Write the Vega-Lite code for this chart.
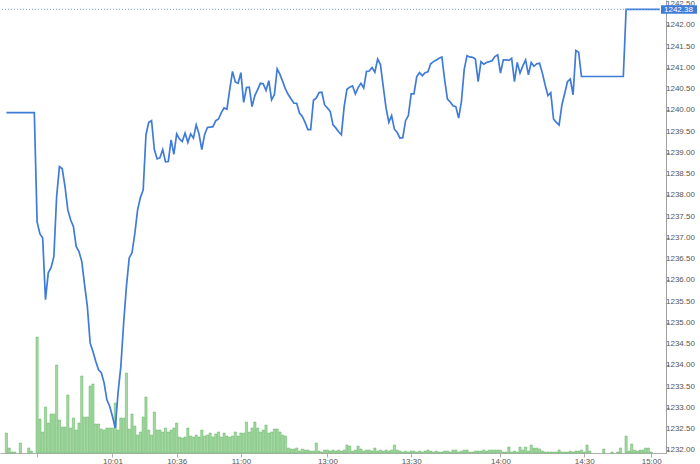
{
  "$schema": "https://vega.github.io/schema/vega-lite/v6.json",
  "width": 666,
  "height": 453,
  "autosize": {"type": "none"},
  "padding": {"left": 0, "top": 0, "right": 34, "bottom": 11},
  "background": "white",
  "config": {
    "view": {"stroke": null},
    "font": "Liberation Sans"
  },
  "datasets": {
    "vol": [
      {"i":0,"v":2000},{"i":1,"v":500},{"i":2,"v":100},{"i":3,"v":100},{"i":5,"v":1000},{"i":8,"v":500},{"i":9,"v":200},
      {"i":11,"v":11600},{"i":12,"v":3400},{"i":13,"v":2100},{"i":14,"v":4600},{"i":15,"v":3000},{"i":16,"v":3900},{"i":17,"v":3900},{"i":18,"v":8800},{"i":19,"v":3300},{"i":20,"v":2600},
      {"i":21,"v":2600},{"i":22,"v":5800},{"i":23,"v":2500},{"i":24,"v":3500},{"i":25,"v":2300},{"i":26,"v":3000},{"i":27,"v":7700},{"i":28,"v":3600},{"i":29,"v":3600},{"i":30,"v":6700},
      {"i":31,"v":6900},{"i":32,"v":2900},{"i":33,"v":2900},{"i":34,"v":2400},{"i":35,"v":2300},{"i":36,"v":2500},{"i":37,"v":2500},{"i":38,"v":2500},{"i":39,"v":5000},{"i":40,"v":2300},
      {"i":41,"v":3500},{"i":42,"v":3500},{"i":43,"v":8000},{"i":44,"v":2400},{"i":45,"v":3900},{"i":46,"v":2700},{"i":47,"v":1800},{"i":48,"v":2100},{"i":49,"v":3600},{"i":50,"v":5600},
      {"i":51,"v":2300},{"i":52,"v":1800},{"i":53,"v":4100},{"i":54,"v":2300},{"i":55,"v":2300},{"i":56,"v":2100},{"i":57,"v":2500},{"i":58,"v":2100},{"i":59,"v":2300},{"i":60,"v":2500},
      {"i":61,"v":3000},{"i":62,"v":1600},{"i":63,"v":1500},{"i":64,"v":1600},{"i":65,"v":2500},{"i":66,"v":1700},{"i":67,"v":1600},{"i":68,"v":1800},{"i":69,"v":1600},{"i":70,"v":2300},
      {"i":71,"v":1700},{"i":72,"v":1800},{"i":73,"v":2000},{"i":74,"v":1600},{"i":75,"v":1900},{"i":76,"v":2100},{"i":77,"v":1600},{"i":78,"v":2000},{"i":79,"v":1700},{"i":80,"v":1600},
      {"i":81,"v":1700},{"i":82,"v":2100},{"i":83,"v":1700},{"i":84,"v":2000},{"i":85,"v":2000},{"i":86,"v":3100},{"i":87,"v":2100},{"i":88,"v":2500},{"i":89,"v":3100},{"i":90,"v":2500},
      {"i":91,"v":2100},{"i":92,"v":2300},{"i":93,"v":2800},{"i":94,"v":2000},{"i":95,"v":2100},{"i":96,"v":2400},{"i":97,"v":2400},{"i":98,"v":2100},{"i":99,"v":1800},{"i":100,"v":1700},
      {"i":101,"v":500},{"i":102,"v":400},{"i":103,"v":400},{"i":104,"v":500},{"i":105,"v":200},{"i":106,"v":400},{"i":107,"v":300},{"i":108,"v":300},{"i":109,"v":200},{"i":110,"v":200},
      {"i":111,"v":1000},{"i":112,"v":200},{"i":113,"v":100},{"i":114,"v":300},{"i":115,"v":300},{"i":116,"v":200},{"i":117,"v":300},{"i":118,"v":200},{"i":119,"v":300},{"i":120,"v":200},
      {"i":121,"v":300},{"i":122,"v":800},{"i":123,"v":700},{"i":124,"v":200},{"i":125,"v":300},{"i":126,"v":700},{"i":127,"v":400},{"i":128,"v":200},{"i":129,"v":300},{"i":130,"v":300},
      {"i":131,"v":200},{"i":132,"v":500},{"i":133,"v":200},{"i":134,"v":300},{"i":135,"v":200},{"i":136,"v":300},{"i":137,"v":200},{"i":138,"v":300},{"i":139,"v":800},{"i":140,"v":300},
      {"i":141,"v":200},{"i":142,"v":100},{"i":143,"v":200},{"i":144,"v":100},{"i":145,"v":200},{"i":146,"v":200},{"i":147,"v":100},{"i":148,"v":200},{"i":149,"v":100},{"i":150,"v":200},
      {"i":151,"v":300},{"i":152,"v":200},{"i":153,"v":100},{"i":154,"v":200},{"i":155,"v":100},{"i":156,"v":100},{"i":157,"v":200},{"i":158,"v":200},{"i":159,"v":100},{"i":160,"v":300},
      {"i":161,"v":300},{"i":162,"v":100},{"i":163,"v":200},{"i":164,"v":300},{"i":165,"v":300},{"i":166,"v":100},{"i":167,"v":100},{"i":168,"v":200},{"i":169,"v":200},{"i":170,"v":200},
      {"i":171,"v":300},{"i":172,"v":200},{"i":173,"v":300},{"i":174,"v":300},{"i":175,"v":300},{"i":176,"v":300},{"i":177,"v":300},{"i":178,"v":100},{"i":179,"v":100},{"i":180,"v":600},
      {"i":181,"v":100},{"i":182,"v":200},{"i":183,"v":100},{"i":184,"v":600},{"i":185,"v":300},{"i":186,"v":600},{"i":187,"v":200},{"i":188,"v":800},{"i":189,"v":500},{"i":190,"v":500},
      {"i":191,"v":400},{"i":192,"v":200},{"i":193,"v":100},{"i":194,"v":100},{"i":195,"v":100},{"i":196,"v":100},{"i":197,"v":100},{"i":198,"v":300},{"i":199,"v":100},{"i":200,"v":100},
      {"i":201,"v":100},{"i":202,"v":200},{"i":203,"v":100},{"i":204,"v":200},{"i":205,"v":200},{"i":206,"v":300},{"i":207,"v":100},{"i":208,"v":800},{"i":209,"v":200},
      {"i":214,"v":400},{"i":217,"v":100},{"i":219,"v":100},{"i":220,"v":500},{"i":222,"v":1700},{"i":223,"v":200},{"i":224,"v":900},{"i":225,"v":300},{"i":226,"v":200},{"i":227,"v":300},
      {"i":228,"v":300},{"i":229,"v":500},{"i":230,"v":500},{"i":231,"v":100}
    ],
    "px": [
      {"i":0,"p":1239.95},{"i":10,"p":1239.95},{"i":11,"p":1237.38},{"i":12,"p":1237.10},{"i":13,"p":1237.00},{"i":14,"p":1235.55},{"i":15,"p":1236.18},{"i":16,"p":1236.30},{"i":17,"p":1236.56},{"i":18,"p":1237.98},
      {"i":19,"p":1238.68},{"i":20,"p":1238.63},{"i":21,"p":1238.21},{"i":22,"p":1237.66},{"i":23,"p":1237.43},{"i":24,"p":1237.27},{"i":25,"p":1236.80},{"i":26,"p":1236.68},{"i":27,"p":1236.45},{"i":28,"p":1235.90},
      {"i":29,"p":1235.39},{"i":30,"p":1234.53},{"i":31,"p":1234.33},{"i":32,"p":1234.10},{"i":33,"p":1233.90},{"i":34,"p":1233.83},{"i":35,"p":1233.59},{"i":36,"p":1233.19},{"i":37,"p":1233.04},{"i":38,"p":1232.80},
      {"i":39,"p":1232.53},{"i":40,"p":1233.36},{"i":41,"p":1233.98},{"i":42,"p":1235.00},{"i":43,"p":1235.86},{"i":44,"p":1236.53},{"i":45,"p":1236.65},{"i":46,"p":1237.10},{"i":47,"p":1237.66},{"i":48,"p":1237.95},
      {"i":49,"p":1238.13},{"i":50,"p":1239.43},{"i":51,"p":1239.72},{"i":52,"p":1239.76},{"i":53,"p":1239.08},{"i":54,"p":1238.86},{"i":55,"p":1238.89},{"i":56,"p":1239.08},{"i":57,"p":1238.79},{"i":58,"p":1238.80},
      {"i":59,"p":1239.31},{"i":60,"p":1238.97},{"i":61,"p":1239.45},{"i":62,"p":1239.33},{"i":63,"p":1239.27},{"i":64,"p":1239.47},{"i":65,"p":1239.25},{"i":66,"p":1239.45},{"i":67,"p":1239.35},{"i":68,"p":1239.66},
      {"i":69,"p":1239.45},{"i":70,"p":1239.08},{"i":71,"p":1239.43},{"i":72,"p":1239.60},{"i":73,"p":1239.61},{"i":74,"p":1239.62},{"i":75,"p":1239.76},{"i":76,"p":1239.80},{"i":77,"p":1239.95},{"i":78,"p":1240.06},
      {"i":79,"p":1240.03},{"i":80,"p":1240.49},{"i":81,"p":1240.92},{"i":82,"p":1240.67},{"i":83,"p":1240.64},{"i":84,"p":1240.89},{"i":85,"p":1240.19},{"i":86,"p":1240.54},{"i":87,"p":1240.55},{"i":88,"p":1240.09},
      {"i":89,"p":1240.35},{"i":90,"p":1240.49},{"i":91,"p":1240.64},{"i":92,"p":1240.63},{"i":93,"p":1240.47},{"i":94,"p":1240.70},{"i":95,"p":1240.25},{"i":96,"p":1240.37},{"i":97,"p":1240.98},{"i":98,"p":1240.85},
      {"i":99,"p":1240.68},{"i":100,"p":1240.50},{"i":101,"p":1240.37},{"i":102,"p":1240.27},{"i":103,"p":1240.17},{"i":104,"p":1240.17},{"i":105,"p":1239.94},{"i":106,"p":1239.86},{"i":107,"p":1239.72},{"i":108,"p":1239.55},
      {"i":109,"p":1239.55},{"i":110,"p":1240.24},{"i":111,"p":1240.29},{"i":112,"p":1240.42},{"i":113,"p":1240.43},{"i":114,"p":1240.13},{"i":115,"p":1240.06},{"i":116,"p":1239.98},{"i":117,"p":1239.66},{"i":118,"p":1239.59},
      {"i":119,"p":1239.50},{"i":120,"p":1239.43},{"i":121,"p":1240.09},{"i":122,"p":1240.50},{"i":123,"p":1240.55},{"i":124,"p":1240.58},{"i":125,"p":1240.39},{"i":126,"p":1240.54},{"i":127,"p":1240.64},{"i":128,"p":1240.53},
      {"i":129,"p":1240.92},{"i":130,"p":1240.93},{"i":131,"p":1241.01},{"i":132,"p":1240.90},{"i":133,"p":1241.21},{"i":134,"p":1241.08},{"i":135,"p":1240.56},{"i":136,"p":1240.06},{"i":137,"p":1239.72},{"i":138,"p":1239.88},
      {"i":139,"p":1239.56},{"i":140,"p":1239.48},{"i":141,"p":1239.35},{"i":142,"p":1239.36},{"i":143,"p":1239.76},{"i":144,"p":1239.88},{"i":145,"p":1240.39},{"i":146,"p":1240.39},{"i":147,"p":1240.80},{"i":148,"p":1240.89},
      {"i":149,"p":1240.82},{"i":150,"p":1240.89},{"i":151,"p":1240.91},{"i":152,"p":1241.10},{"i":153,"p":1241.15},{"i":154,"p":1241.19},{"i":155,"p":1241.23},{"i":156,"p":1241.26},{"i":157,"p":1240.72},{"i":158,"p":1240.27},
      {"i":159,"p":1240.20},{"i":160,"p":1240.11},{"i":161,"p":1240.09},{"i":162,"p":1239.82},{"i":163,"p":1240.21},{"i":164,"p":1240.96},{"i":165,"p":1241.29},{"i":166,"p":1241.26},{"i":167,"p":1241.25},{"i":168,"p":1241.21},
      {"i":169,"p":1240.68},{"i":170,"p":1241.15},{"i":171,"p":1241.09},{"i":172,"p":1241.13},{"i":173,"p":1241.15},{"i":174,"p":1241.17},{"i":175,"p":1241.27},{"i":176,"p":1241.31},{"i":177,"p":1240.88},{"i":178,"p":1241.19},
      {"i":179,"p":1241.19},{"i":180,"p":1241.18},{"i":181,"p":1241.23},{"i":182,"p":1240.68},{"i":183,"p":1241.13},{"i":184,"p":1240.88},{"i":185,"p":1241.05},{"i":186,"p":1241.19},{"i":187,"p":1240.84},{"i":188,"p":1241.13},
      {"i":189,"p":1241.04},{"i":190,"p":1241.10},{"i":191,"p":1241.11},{"i":192,"p":1240.88},{"i":193,"p":1240.60},{"i":194,"p":1240.35},{"i":195,"p":1240.42},{"i":196,"p":1239.80},{"i":197,"p":1239.72},{"i":198,"p":1239.66},
      {"i":199,"p":1240.13},{"i":200,"p":1240.40},{"i":201,"p":1240.68},{"i":202,"p":1240.74},{"i":203,"p":1240.37},{"i":204,"p":1241.41},{"i":205,"p":1241.37},{"i":206,"p":1240.80},{"i":221,"p":1240.80},{"i":222,"p":1242.38},
      {"i":234,"p":1242.38}
    ],
    "last": [{"p": 1242.38}],
    "ticks": [
      {"t":1232},{"t":1232.5},{"t":1233},{"t":1233.5},{"t":1234},{"t":1234.5},{"t":1235},{"t":1235.5},{"t":1236},{"t":1236.5},{"t":1237},
      {"t":1237.5},{"t":1238},{"t":1238.5},{"t":1239},{"t":1239.5},{"t":1240},{"t":1240.5},{"t":1241},{"t":1241.5},{"t":1242},{"t":1242.5}
    ]
  },
  "layer": [
    {
      "data": {"name": "vol"},
      "mark": {"type": "bar", "width": 2.2, "fill": "#a3d8a0", "stroke": "#62b462", "strokeWidth": 0.5},
      "encoding": {
        "x": {
          "field": "i", "type": "quantitative",
          "scale": {"domain": [-0.5, 234.5], "nice": false, "zero": false},
          "axis": {
            "values": [11, 38, 61, 84, 115, 145, 177, 207, 231],
            "labelExpr": "datum.value == 38 ? '10:01' : datum.value == 61 ? '10:36' : datum.value == 84 ? '11:00' : datum.value == 115 ? '13:00' : datum.value == 145 ? '13:30' : datum.value == 177 ? '14:00' : datum.value == 207 ? '14:30' : datum.value == 231 ? '15:00' : ''",
            "title": null, "grid": false,
            "domainColor": "#b0b0b0", "tickColor": "#b0b0b0", "tickSize": 4,
            "labelFontSize": 8, "labelColor": "#555555", "labelPadding": 0,
            "labelFlush": false, "labelOverlap": false
          }
        },
        "y": {
          "field": "v", "type": "quantitative",
          "scale": {"domain": [0, 45300], "nice": false, "zero": true},
          "axis": null
        }
      }
    },
    {
      "layer": [
        {
          "data": {"name": "px"},
          "mark": {"type": "line", "color": "#3f7bd9", "strokeWidth": 1.7},
          "encoding": {
            "x": {"field": "i", "type": "quantitative"},
            "y": {
              "field": "p", "type": "quantitative",
              "scale": {"domain": [1231.94, 1242.6], "nice": false, "zero": false},
              "axis": {
                "orient": "right", "title": null, "grid": false,
                "values": [1232, 1232.5, 1233, 1233.5, 1234, 1234.5, 1235, 1235.5, 1236, 1236.5, 1237, 1237.5, 1238, 1238.5, 1239, 1239.5, 1240, 1240.5, 1241, 1241.5, 1242, 1242.5],
                "labels": false,
                "domainColor": "#a0a0a0", "tickColor": "#a0a0a0", "tickSize": 3
              }
            }
          }
        },
        {
          "data": {"name": "ticks"},
          "mark": {"type": "text", "align": "left", "baseline": "middle", "dx": 5, "color": "#555555", "fontSize": 8, "clip": false},
          "encoding": {
            "x": {"datum": 234.5, "type": "quantitative"},
            "y": {"field": "t", "type": "quantitative"},
            "text": {"field": "t", "type": "quantitative", "format": ".2f"}
          }
        },
        {
          "data": {"name": "last"},
          "mark": {"type": "rule", "color": "#6f9fe6", "strokeDash": [1, 2], "strokeWidth": 1},
          "encoding": {"y": {"field": "p", "type": "quantitative"}}
        },
        {
          "data": {"name": "last"},
          "mark": {"type": "point", "shape": "M0,-0.2L1.8,-0.2L1.8,0.22L0,0.22Z", "size": 1600, "filled": true, "color": "#3f7bd9", "opacity": 1},
          "encoding": {
            "x": {"datum": 234.5, "type": "quantitative"},
            "y": {"field": "p", "type": "quantitative"}
          }
        },
        {
          "data": {"name": "last"},
          "mark": {"type": "text", "align": "left", "baseline": "middle", "dx": 3, "dy": 0.5, "color": "white", "fontSize": 8},
          "encoding": {
            "x": {"datum": 234.5, "type": "quantitative"},
            "y": {"field": "p", "type": "quantitative"},
            "text": {"field": "p", "type": "quantitative", "format": ".2f"}
          }
        }
      ]
    }
  ],
  "resolve": {"scale": {"y": "independent"}}
}
